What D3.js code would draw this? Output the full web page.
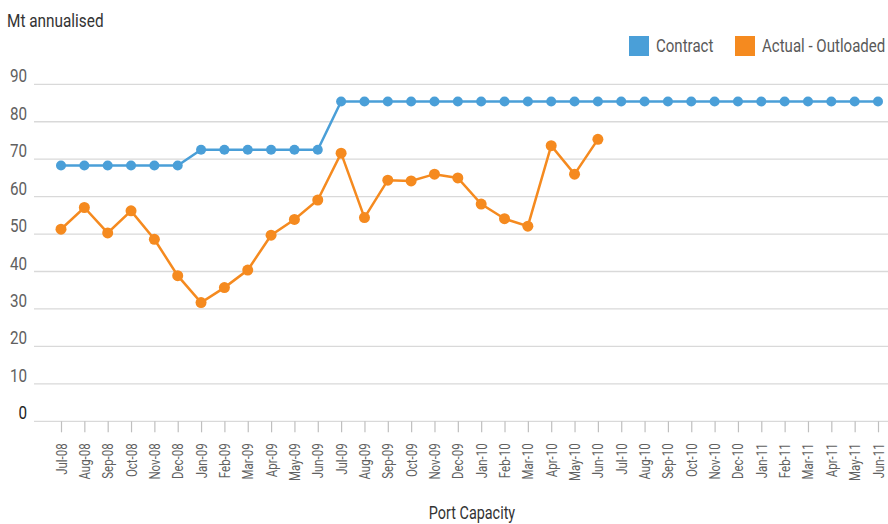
<!DOCTYPE html>
<html>
<head>
<meta charset="utf-8">
<script src="https://cdn.jsdelivr.net/npm/d3@7"></script>
<style>
  html, body { margin: 0; padding: 0; background: #fff; }
  svg { display: block; }
  text { font-family: Roboto, "Liberation Sans", sans-serif; }
</style>
</head>
<body>
<svg id="chart" width="888" height="524"></svg>
<script>
// Monthly categories, Jul-08 .. Jun-11
const months = ["Jul-08","Aug-08","Sep-08","Oct-08","Nov-08","Dec-08",
  "Jan-09","Feb-09","Mar-09","Apr-09","May-09","Jun-09",
  "Jul-09","Aug-09","Sep-09","Oct-09","Nov-09","Dec-09",
  "Jan-10","Feb-10","Mar-10","Apr-10","May-10","Jun-10",
  "Jul-10","Aug-10","Sep-10","Oct-10","Nov-10","Dec-10",
  "Jan-11","Feb-11","Mar-11","Apr-11","May-11","Jun-11"];

// Contracted capacity (Mt annualised)
const contract = [68.3,68.3,68.3,68.3,68.3,68.3,
  72.5,72.5,72.5,72.5,72.5,72.5,
  85.4,85.4,85.4,85.4,85.4,85.4,
  85.4,85.4,85.4,85.4,85.4,85.4,
  85.4,85.4,85.4,85.4,85.4,85.4,
  85.4,85.4,85.4,85.4,85.4,85.4];

// Actual outloaded tonnage (Mt annualised), reported to Jun-10
const actual = [51.3,57.1,50.3,56.2,48.6,38.9,
  31.7,35.7,40.4,49.7,53.9,59.1,
  71.6,54.4,64.4,64.2,66.0,65.0,
  58.0,54.1,52.1,73.6,66.0,75.3];

const yTicks = [0,10,20,30,40,50,60,70,80,90];

const seriesNames = ["Contract", "Actual - Outloaded"];
const colors = ["#4a9fd8", "#f58a1f"];

// Condensed look: squeeze glyphs horizontally around the text anchor
function condense(sel, f, pre) {
  sel.each(function () {
    const t = d3.select(this);
    const tx = +t.attr("x") || 0, ty = +t.attr("y") || 0;
    t.attr("x", 0).attr("y", 0)
     .attr("transform", `translate(${tx},${ty})${pre || ""} scale(${f},1)`);
  });
}

const svg = d3.select("#chart");

const x = d3.scalePoint().domain(months).range([61, 878]);
const y = d3.scaleLinear().domain([0, 90]).range([421.3, 84.3]);

// Horizontal gridlines
svg.append("g").selectAll("line")
  .data(yTicks).join("line")
  .attr("x1", 34).attr("x2", 888)
  .attr("y1", d => y(d)).attr("y2", d => y(d))
  .attr("stroke", "#d9d9d9").attr("stroke-width", 1.3);

// Y tick labels, sitting above their gridlines
svg.append("g").selectAll("text")
  .data(yTicks).join("text")
  .attr("x", 27).attr("y", d => y(d) - 2)
  .attr("text-anchor", "end")
  .attr("font-size", 19)
  .attr("fill", d => d === 0 ? "#222" : "#606060")
  .text(d => d)
  .call(condense, 0.8);

// X axis ticks and rotated month labels
const xAxis = d3.axisBottom(x).tickSize(11).tickSizeOuter(0);
const gx = svg.append("g").attr("transform", `translate(0,${y(0)})`).call(xAxis);
gx.select(".domain").remove();
gx.selectAll(".tick line").attr("stroke", "#bfbfbf").attr("stroke-width", 1.2);
gx.selectAll(".tick text")
  .attr("font-size", 14)
  .attr("fill", "#606060")
  .attr("text-anchor", "end")
  .attr("dy", null)
  .attr("x", 5).attr("y", 22)
  .call(condense, 0.82, " rotate(-90)");

// Titles
svg.append("text").attr("x", 7).attr("y", 26.5)
  .attr("font-size", 18.5).attr("fill", "#333").text("Mt annualised")
  .call(condense, 0.83);
svg.append("text").attr("x", 472).attr("y", 519)
  .attr("text-anchor", "middle")
  .attr("font-size", 18).attr("fill", "#333").text("Port Capacity")
  .call(condense, 0.8);

// Legend
const legendX = [629, 735];
const lg = svg.append("g").selectAll("g")
  .data(seriesNames).join("g")
  .attr("transform", (d, i) => `translate(${legendX[i]},36)`);
lg.append("rect").attr("width", 20).attr("height", 20)
  .attr("fill", (d, i) => colors[i]);
lg.append("text").attr("x", 27).attr("y", 16)
  .attr("font-size", 17.5).attr("fill", "#595959").text(d => d)
  .call(condense, 0.86);

// Series lines and markers
const line = d3.line().x((d, i) => x(months[i])).y(d => y(d));
[contract, actual].forEach((vals, k) => {
  svg.append("path").datum(vals)
    .attr("d", line).attr("fill", "none")
    .attr("stroke", colors[k]).attr("stroke-width", 2.5);
  svg.append("g").selectAll("circle")
    .data(vals).join("circle")
    .attr("cx", (d, i) => x(months[i])).attr("cy", d => y(d))
    .attr("r", k === 0 ? 5 : 5.5)
    .attr("fill", colors[k]);
});
</script>
</body>
</html>
